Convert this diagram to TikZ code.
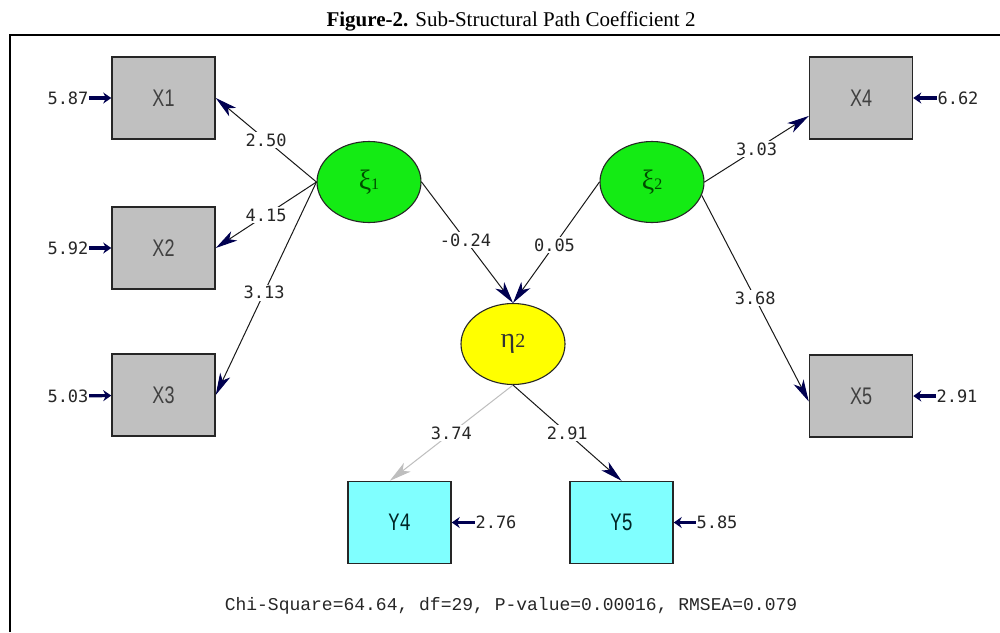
\documentclass[tikz,border=0pt]{standalone}
\usepackage{fontspec}
\setmainfont{Liberation Serif}
\newfontfamily\numfont{DejaVu Sans Mono}
\newfontfamily\xfont[FakeStretch=0.75]{Liberation Sans}
\newfontfamily\courfont{Liberation Mono}
\newfontfamily\yfont[FakeStretch=0.75]{Liberation Mono}
\newfontfamily\greekfont{Liberation Serif}
\usetikzlibrary{shapes.geometric,arrows.meta}
\definecolor{navy}{RGB}{0,0,80}
\definecolor{boxgray}{RGB}{192,192,192}
\definecolor{boxcyan}{RGB}{128,255,255}
\definecolor{latgreen}{RGB}{20,235,20}
\definecolor{latyellow}{RGB}{255,255,0}
\definecolor{lightln}{RGB}{190,190,190}
\begin{document}
\begin{tikzpicture}[x=1pt,y=-1pt,
  obsx/.style={draw=black!85, line width=1.5pt, fill=boxgray, minimum width=103pt, minimum height=82pt, inner sep=0pt, font=\xfont\fontsize{24}{24}\selectfont, text=black!75},
  obsy/.style={obsx, fill=boxcyan, font=\yfont\fontsize{25}{25}\selectfont, text=black!70!teal},
  latx/.style={ellipse, draw=black!85, line width=1.1pt, fill=latgreen, minimum width=104pt, minimum height=81pt, inner sep=0pt, text=green!30!black},
  laty/.style={latx, fill=latyellow, text=black!80},
  errnum/.style={inner sep=0.5pt, font=\numfont\fontsize{17}{17}\selectfont, text=black!85},
  lbl/.style={fill=white, inner sep=1.5pt, font=\numfont\fontsize{17}{17}\selectfont, text=black!85},
  pth/.style={draw=black!90, line width=1pt, -{Stealth[length=22pt,width=11pt,inset=6pt,color=navy]}},
  pthlight/.style={draw=lightln, line width=1pt, -{Stealth[length=22pt,width=11pt,inset=6pt,color=lightln]}},
  err/.style={draw=navy, line width=3.2pt, -{Stealth[length=8pt,width=11pt]}}
]
\useasboundingbox (0,0) rectangle (1000,632);
\fill[white] (0,0) rectangle (1000,632);
% title and frame
\node[font=\fontsize{21}{22}\selectfont] (title) at (511,21) {\textbf{Figure-2.} Sub-Structural Path Coefficient 2};
\coordinate (fbl) at (10,632);
\coordinate (ftl) at (10,35);
\coordinate (ftr) at (1000,35);
\draw[line width=1.8pt] (fbl) -- (ftl) -- (ftr);

% observed variables
\node[obsx] (X1) at (163.5,98) {X1};
\node[obsx] (X2) at (163.5,248) {X2};
\node[obsx] (X3) at (163.5,395) {X3};
\node[obsx] (X4) at (861,98) {X4};
\node[obsx] (X5) at (861,396) {X5};
\node[obsy] (Y4) at (399.5,522.5) {Y4};
\node[obsy] (Y5) at (621.5,522.5) {Y5};

% latent variables
\node[latx] (xi1) at (369,182) {\greekfont{\fontsize{28}{28}\selectfont ξ}{\fontsize{16}{16}\selectfont 1}};
\node[latx] (xi2) at (652,182) {\greekfont{\fontsize{28}{28}\selectfont ξ}{\fontsize{16}{16}\selectfont 2}};
\node[laty] (eta) at (513,344) {\greekfont{\fontsize{28}{28}\selectfont η}{\fontsize{20}{20}\selectfont 2}};

% error terms
\node[errnum] (e1) at (68,98) {5.87};
\node[errnum] (e2) at (68,248) {5.92};
\node[errnum] (e3) at (68,396) {5.03};
\node[errnum] (e4) at (958,98) {6.62};
\node[errnum] (e5) at (957,396) {2.91};
\node[errnum] (ey4) at (496,522.5) {2.76};
\node[errnum] (ey5) at (717,522.5) {5.85};
\draw[err] (e1) -- (X1);
\draw[err] (e2) -- (X2);
\draw[err] (e3) -- (X3);
\draw[err] (e4) -- (X4);
\draw[err] (e5) -- (X5);
\draw[err] (ey4) -- (Y4);
\draw[err] (ey5) -- (Y5);

% paths
\draw[pth] (xi1.west) -- (X1.east) node[lbl,pos=.5] {2.50};
\draw[pth] (xi1.west) -- (X2.east) node[lbl,pos=.5] {4.15};
\draw[pth] (xi1.west) -- (X3.east) node[lbl,pos=.52] {3.13};
\draw[pth] (xi1.east) -- (eta.north) node[lbl,pos=.48] {-0.24};
\draw[pth] (xi2.west) -- (eta.north) node[lbl,pos=.52] {0.05};
\draw[pth] (xi2.east) -- (X4.199) node[lbl,pos=.5] {3.03};
\draw[pth] (xi2.-15) -- (X5.186) node[lbl,pos=.5] {3.68};
\draw[pthlight] (eta.south) -- (Y4.103) node[lbl,pos=.5] {3.74};
\draw[pth] (eta.south) -- (Y5.north) node[lbl,pos=.5] {2.91};

% fit statistics
\node[font=\courfont\fontsize{18}{18}\selectfont, text=black!85] (fit) at (511,606) {Chi-Square=64.64, df=29, P-value=0.00016, RMSEA=0.079};
\end{tikzpicture}
\end{document}
